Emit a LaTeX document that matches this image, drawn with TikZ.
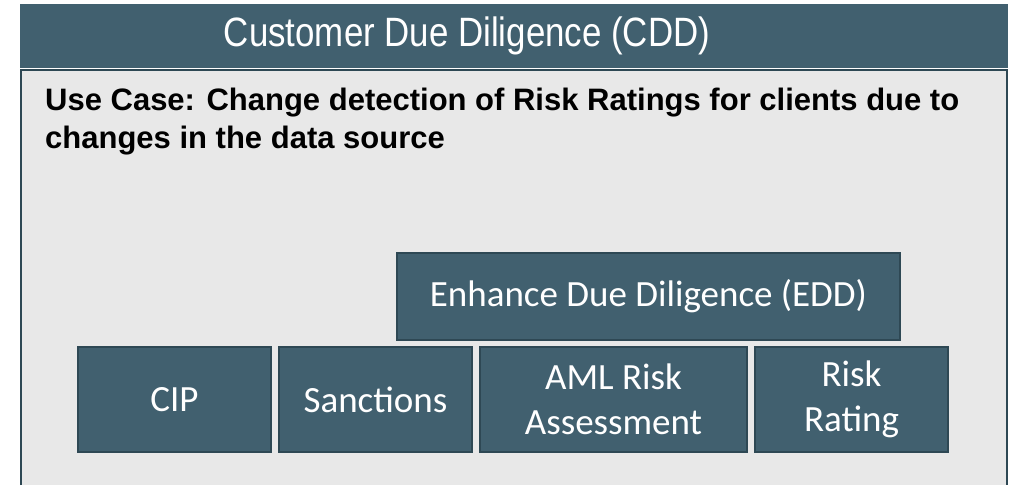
\documentclass[tikz,border=0pt]{standalone}
\usepackage{fontspec}
\setmainfont{Liberation Sans}
\newfontfamily\titlefont[FakeStretch=0.85]{Liberation Sans}
\newfontfamily\boxfont{Carlito}
\definecolor{cddslate}{HTML}{41606F}
\definecolor{cddedge}{HTML}{2E4854}
\definecolor{cddpanel}{HTML}{E8E8E8}
\tikzset{
  blockbox/.style={draw=cddedge, line width=1.5pt, fill=cddslate, text=white,
    font=\boxfont\fontsize{37}{45}\selectfont, align=center, inner sep=0pt}
}
\begin{document}
\begin{tikzpicture}[x=1pt,y=-1pt]
                    \useasboundingbox (0,0) rectangle (1010,485);

                    % header and panel
                    \fill[cddslate] (20,4) rectangle (1008,68);
                    \fill[cddpanel] (20,70) rectangle (1007,485);
                    \draw[cddedge, line width=2pt] (21,485) -- (21,70) -- (1006.5,70) -- (1006.5,485);

                    \node[text=white, font=\titlefont\fontsize{41}{46}\selectfont] (title) at (467,36) {Customer Due Diligence (CDD)};
                    \node[anchor=base west, align=left, inner sep=0pt,
                          font=\bfseries\fontsize{31}{38}\selectfont] (usecase) at (45,148)
                          {Use Case: Change detection of Risk Ratings for clients due to\\changes in the data source};

                    % blocks
                    \node[blockbox, minimum width=503pt, minimum height=87pt] (edd) at (648.5,296.5) {Enhance Due Diligence (EDD)};
                    \node[blockbox, minimum width=193pt, minimum height=105pt] (cip) at (174.5,399.5) {CIP};
                    \node[blockbox, minimum width=193pt, minimum height=105pt] (sanctions) at (375.5,399.5) {Sanctions};
                    \node[blockbox, minimum width=267pt, minimum height=105pt] (aml) at (613.5,399.5) {AML Risk\\Assessment};
                    \node[blockbox, minimum width=193pt, minimum height=105pt] (rating) at (851.5,399.5) {Risk\\Rating};

                \end{tikzpicture}
\end{document}
